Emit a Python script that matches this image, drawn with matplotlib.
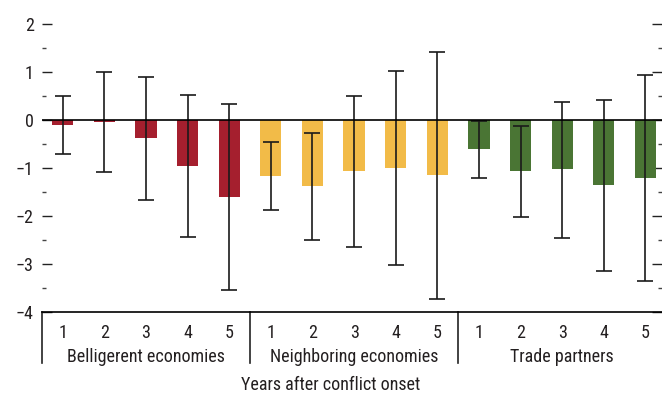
import matplotlib
matplotlib.use("Agg")
import matplotlib.pyplot as plt
import matplotlib.transforms as mtransforms
from matplotlib.ticker import MultipleLocator
import numpy as np

plt.rcParams['font.family'] = ['Roboto Condensed', 'DejaVu Sans']

groups = ["Belligerent economies", "Neighboring economies", "Trade partners"]
years = ["1", "2", "3", "4", "5"]
group_colors = ["#A51F2E", "#F2BB48", "#4A7534"]

# Point estimates by group and year
belligerent = [-0.10, -0.05, -0.38, -0.95, -1.60]
neighboring = [-1.16, -1.38, -1.07, -0.99, -1.15]
trade = [-0.61, -1.07, -1.03, -1.36, -1.20]

# Confidence interval bounds
belligerent_lo = [-0.70, -1.09, -1.67, -2.44, -3.54]
belligerent_hi = [0.50, 1.00, 0.89, 0.53, 0.33]
neighboring_lo = [-1.87, -2.49, -2.64, -3.03, -3.72]
neighboring_hi = [-0.46, -0.28, 0.51, 1.03, 1.42]
trade_lo = [-1.20, -2.03, -2.45, -3.14, -3.35]
trade_hi = [-0.02, -0.12, 0.37, 0.42, 0.94]

values = [belligerent, neighboring, trade]
lows = [belligerent_lo, neighboring_lo, trade_lo]
highs = [belligerent_hi, neighboring_hi, trade_hi]

text_color = "#231F20"
fs = 13

fig = plt.figure(figsize=(6.62, 3.96), dpi=100)
ax = fig.add_axes([42 / 662, 84 / 396, 620 / 662, 288 / 396])

n = len(years)
for g in range(len(groups)):
    x = np.arange(n) + g * n
    v = np.array(values[g])
    lo = np.array(lows[g])
    hi = np.array(highs[g])
    ax.bar(x, v, width=0.51, color=group_colors[g], zorder=2)
    ax.errorbar(x, v, yerr=[v - lo, hi - v], fmt='none', ecolor='#1a1a1a',
                elinewidth=1.2, capsize=5.8, capthick=1.2, zorder=3)

ax.axhline(0, color='black', lw=1.2, zorder=4)

ax.set_xlim(-0.5, 3 * n - 0.6)
ax.set_ylim(-4, 2)

for s in ['top', 'right', 'left']:
    ax.spines[s].set_visible(False)
ax.spines['bottom'].set_linewidth(1.2)
ax.spines['bottom'].set_color('black')

ax.yaxis.set_major_locator(MultipleLocator(1))
ax.yaxis.set_minor_locator(MultipleLocator(0.5))
ax.tick_params(axis='y', which='major', direction='in', length=7, width=1.0,
               left=True, right=True, pad=6, labelsize=fs, labelcolor=text_color,
               color='#222222')
ax.tick_params(axis='y', which='minor', direction='in', length=3, width=1.0,
               left=True, right=True, color='#444444')
ax.set_yticks([2, 1, 0, -1, -2, -3, -4])
ax.set_yticklabels(["2", "1", "0", "\u22121", "\u22122", "\u22123", "\u22124"])

ax.set_xticks(np.arange(3 * n))
ax.set_xticklabels(years * 3)
ax.tick_params(axis='x', length=0, pad=9, labelsize=fs, labelcolor=text_color)

trans = mtransforms.blended_transform_factory(ax.transData, ax.transAxes)
for b in [-0.5, n - 0.5, 2 * n - 0.5]:
    ax.plot([b, b], [0, -0.177], transform=trans, color='#222222', lw=1.2,
            clip_on=False)

for g, name in enumerate(groups):
    ax.text(g * n + (n - 1) / 2, -0.156, name, transform=trans, ha='center',
            va='center', fontsize=fs, color=text_color)

fig.text(0.5, 11 / 396, "Years after conflict onset", ha='center', va='center',
         fontsize=fs, color=text_color)

fig.savefig("out.png", dpi=100)
